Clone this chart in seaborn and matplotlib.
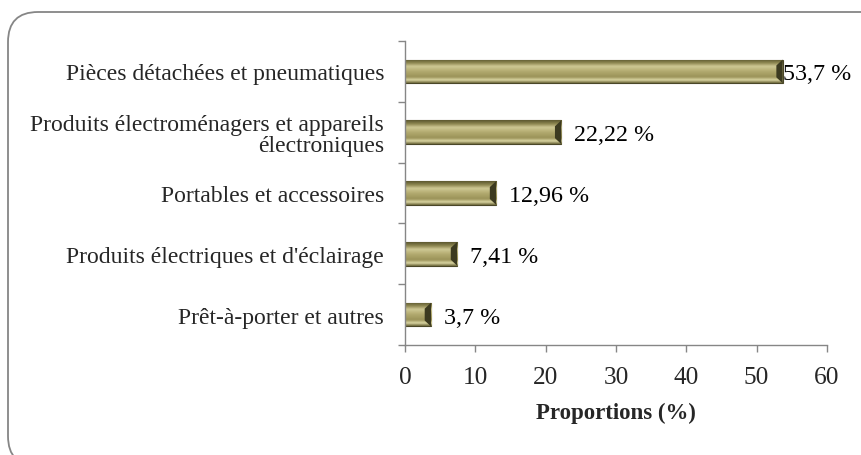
import numpy as np
import pandas as pd
import matplotlib
matplotlib.use("Agg")
import matplotlib.pyplot as plt
import seaborn as sns
from matplotlib.patches import FancyBboxPatch
from matplotlib.colors import LinearSegmentedColormap

categories = ["Pièces détachées et pneumatiques",
              "Produits électroménagers et appareils\nélectroniques",
              "Portables et accessoires",
              "Produits électriques et d'éclairage",
              "Prêt-à-porter et autres"]
values = [53.7, 22.22, 12.96, 7.41, 3.7]
value_labels = ["53,7 %", "22,22 %", "12,96 %", "7,41 %", "3,7 %"]
xticks = [0, 10, 20, 30, 40, 50, 60]

sns.set_theme(style="white")
plt.rcParams['font.family'] = ['Liberation Serif', 'DejaVu Serif']

df = pd.DataFrame({"cat": categories, "val": values})

W, H = 861, 456
fig = plt.figure(figsize=(W / 100, H / 100), dpi=100)
ax = fig.add_axes([405/W, 1-346/H, (827-405)/W, (346-42)/H])

sns.barplot(data=df, x="val", y="cat", orient="h", color="#a8a068",
            width=0.39, ax=ax, edgecolor="#4a4728", linewidth=0.8)

# gradient fill to mimic bevel
grad = np.linspace(0, 1, 64).reshape(-1, 1)
cmap = LinearSegmentedColormap.from_list("bev", [
    (0.0, "#5c5830"), (0.15, "#8d8650"), (0.3, "#cfc995"),
    (0.5, "#b3ab70"), (0.75, "#9a9258"), (0.88, "#ddd8a5"), (1.0, "#6a6538")])
for p in list(ax.patches):
    x0, y0 = p.get_x(), p.get_y()
    w, h = p.get_width(), p.get_height()
    im = ax.imshow(grad, extent=[x0, x0 + w, y0 + h, y0], aspect="auto",
                   cmap=cmap, origin="upper", zorder=p.get_zorder() + 0.1,
                   interpolation="bicubic")
    im.set_clip_path(p)
    # dark end cap
    ax.fill([x0 + w - 0.9, x0 + w, x0 + w, x0 + w - 0.9],
            [y0 + h * 0.25, y0, y0 + h, y0 + h * 0.75],
            color="#3c3a20", zorder=p.get_zorder() + 0.2, lw=0)

for i, (v, lab) in enumerate(zip(values, value_labels)):
    ax.text(v + (0.1 if i == 0 else 1.8), i + 0.04, lab, va="center",
            ha="left", fontsize=17.3, color="black")

ax.set_xlim(0, 60)
ax.set_ylim(4.5, -0.5)
ax.set_xticks(xticks)
ax.set_xticklabels([str(t) for t in xticks], fontsize=18.3)
ax.set_yticks(range(len(categories)))
ax.set_yticklabels(categories, fontsize=17, linespacing=1.05)
ax.tick_params(axis="y", length=0, pad=15)
ax.tick_params(axis="x", length=5, width=1, color="#868686", direction="out",
               bottom=True, pad=10)
ax.set_yticks(np.arange(-0.5, 5, 1), minor=True)
ax.tick_params(axis="y", which="minor", length=5, width=1, color="#868686",
               direction="out", left=True)
ax.set_xlabel("Proportions (%)", fontsize=16.5, fontweight="bold",
              labelpad=10)
ax.set_ylabel("")
for s in ["top", "right"]:
    ax.spines[s].set_visible(False)
for s in ["left", "bottom"]:
    ax.spines[s].set_color("#868686")
    ax.spines[s].set_linewidth(1)
ax.grid(False)

frame = FancyBboxPatch((8 / W, 1 - 467 / H), 884 / W, 454 / H,
                       boxstyle="round,pad=0,rounding_size=%f" % (30 / W),
                       transform=fig.transFigure, fill=False,
                       edgecolor="#868686", linewidth=1.3,
                       mutation_aspect=W / H)
fig.patches.append(frame)

fig.savefig("out.png", dpi=100)
